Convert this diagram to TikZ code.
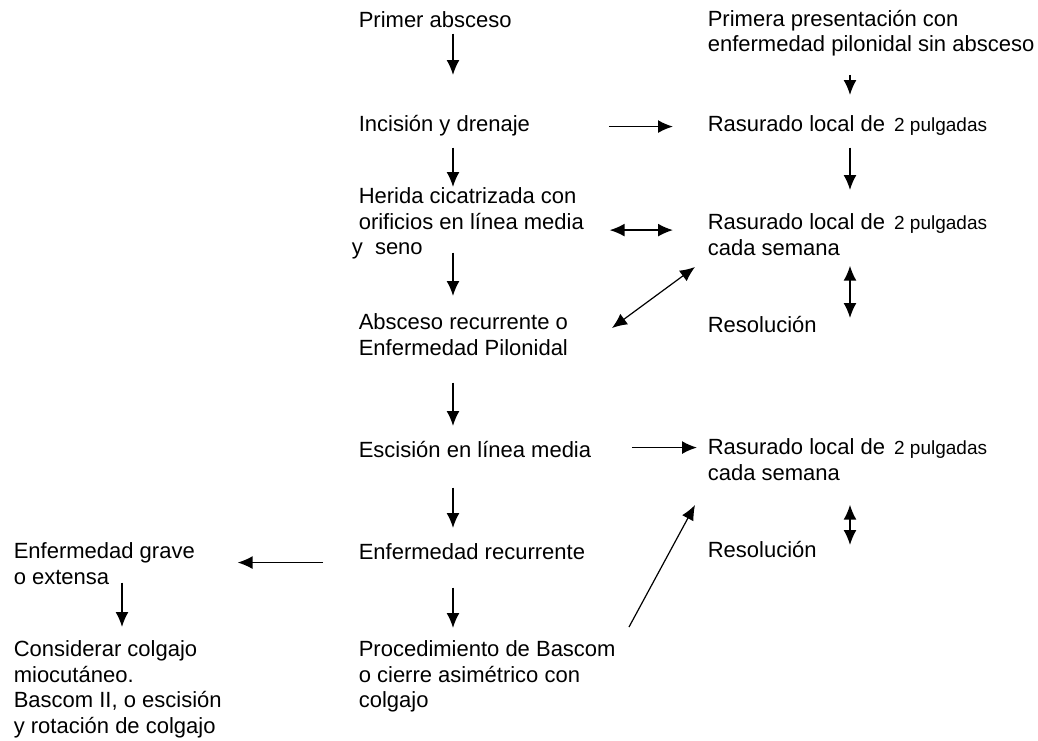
\documentclass[tikz,border=0pt]{standalone}
\usepackage{fontspec}
\setmainfont{Liberation Sans}
\usetikzlibrary{arrows.meta}
\newcommand{\pulg}{\fontsize{9.5pt}{12pt}\selectfont}

\begin{document}
\begin{tikzpicture}[x=0.5pt,y=-0.5pt,line width=0.8pt,>={Latex[length=7.5pt,width=6.5pt]},
    txt/.style={anchor=north west,inner sep=0pt,align=left,
        font=\fontsize{11pt}{12.75pt}\selectfont,
        execute at begin node=\strut,execute at end node=\strut}]
    \useasboundingbox (0,0) rectangle (1038,740);

    % columns of the vertical arrows
    \coordinate (colL) at (453,0);
    \coordinate (colR) at (850,0);
    \coordinate (colG) at (122,0);

    % main column
    \node[txt] (primer) at (358,9) {Primer absceso};
    \node[txt] (incision) at (358,113) {Incisión y drenaje};
    \node[txt] (herida) at (351,187) {\hspace*{3.5pt}Herida cicatrizada con\\\hspace*{3.5pt}orificios en línea media\\y\ \ seno};
    \node[txt] (absceso) at (358,313) {Absceso recurrente o\\Enfermedad Pilonidal};
    \node[txt] (escision) at (358,439) {Escisión en línea media};
    \node[txt] (enfrec) at (358,541) {Enfermedad recurrente};
    \node[txt] (bascom) at (358,640) {Procedimiento de Bascom\\o cierre asimétrico con\\colgajo};

    % right column
    \node[txt] (primera) at (707,9) {Primera presentación con\\enfermedad pilonidal sin absceso};
    \node[txt] (rasu1) at (707,113) {Rasurado local de\hspace{4.5pt}{\pulg 2 pulgadas}};
    \node[txt] (rasu2) at (707,213) {Rasurado local de\hspace{4.5pt}{\pulg 2 pulgadas}\\cada semana};
    \node[txt] (resol1) at (707,314) {Resolución};
    \node[txt] (rasu3) at (707,438) {Rasurado local de\hspace{4.5pt}{\pulg 2 pulgadas}\\cada semana};
    \node[txt] (resol2) at (707,539) {Resolución};

    % left column
    \node[txt] (grave) at (13,542) {Enfermedad grave\\o extensa};
    \node[txt] (colgajo) at (13,640) {Considerar colgajo\\miocutáneo.\\Bascom II, o escisión\\y rotación de colgajo};

    % vertical arrows
    \draw[->,shorten <=-1.25pt,shorten >=19pt] (primer.south -| colL) -- (incision.north -| colL);
    \draw[->,shorten <=3.75pt] (incision.south -| colL) -- (herida.north -| colL);
    \draw[->,shorten <=-5.25pt,shorten >=8.5pt] (herida.south -| colL) -- (absceso.north -| colL);
    \draw[->,shorten <=9.5pt,shorten >=6.5pt] (absceso.south -| colL) -- (escision.north -| colL);
    \draw[->,shorten <=10.75pt,shorten >=6.5pt] (escision.south -| colL) -- (enfrec.north -| colL);
    \draw[->,shorten <=9.75pt,shorten >=6pt] (enfrec.south -| colL) -- (bascom.north -| colL);
    \draw[->,shorten <=-5pt,shorten >=6.5pt] (grave.south -| colG) -- (colgajo.north -| colG);
    \draw[->,shorten <=7.5pt,shorten >=9pt] (primera.south -| colR) -- (rasu1.north -| colR);
    \draw[->,shorten <=3.75pt,shorten >=11.5pt] (rasu1.south -| colR) -- (rasu2.north -| colR);
    \draw[<->,shorten <=1pt,shorten >=-2pt] (rasu2.south -| colR) -- (resol1.north -| colR);
    \draw[<->,shorten <=8pt,shorten >=-3pt] (rasu3.south -| colR) -- (resol2.north -| colR);

    % horizontal arrows
    \draw[->,shorten <=39pt,shorten >=17pt] (incision.east) -- (incision.east -| rasu1.west);
    \draw[<->,shorten <=12.5pt,shorten >=17pt,transform canvas={yshift=-2.5pt}] (herida.east) -- (herida.east -| rasu2.west);
    \draw[->,shorten <=20pt,shorten >=5pt,transform canvas={yshift=2.5pt}] (escision.east) -- (escision.east -| rasu3.west);
    \draw[->,shorten <=17.5pt,shorten >=21pt,transform canvas={yshift=-4pt}] (enfrec.west) -- (enfrec.west -| grave.east);

    % slanted arrows
    \coordinate (d1a) at (612,328);
    \coordinate (d1b) at (695,267);
    \coordinate (d2a) at (629,627);
    \coordinate (d2b) at (695,505);
    \draw[<->,line width=0.6pt] (d1a) -- (d1b);
    \draw[->,line width=0.6pt] (d2a) -- (d2b);
\end{tikzpicture}
\end{document}
